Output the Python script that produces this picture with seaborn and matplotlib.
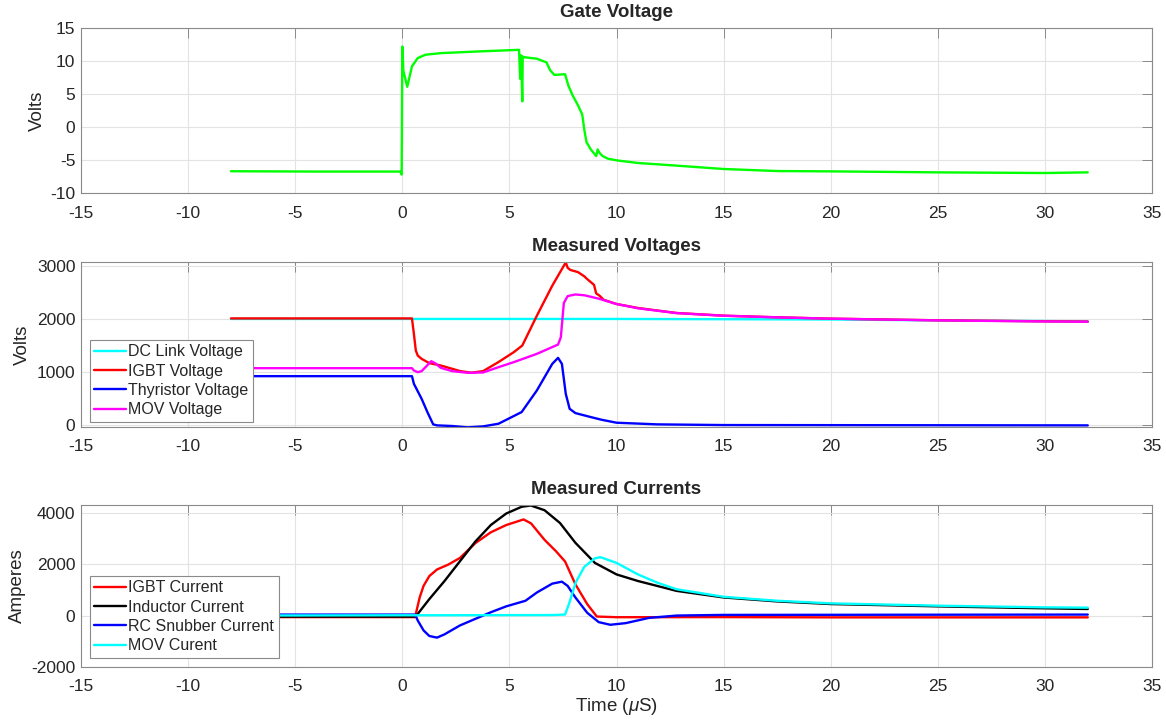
import numpy as np
import pandas as pd
import matplotlib
matplotlib.use("Agg")
import matplotlib.pyplot as plt
import seaborn as sns

# ------------------------------
# Data (time in microseconds)
# ------------------------------
gate_t = [-8.0, -4.0, -0.1, -0.03, 0.0, 0.05, 0.23, 0.45, 0.72, 1.08, 1.8, 3.6,
          5.45, 5.5, 5.52, 5.55, 5.6, 5.62, 5.65, 6.28, 6.73, 6.9, 7.1, 7.6,
          7.75, 7.95, 8.2, 8.4, 8.5, 8.6, 8.8, 9.05, 9.12, 9.2, 9.35, 9.6,
          10.0, 11.0, 12.8, 15.0, 17.5, 20.0, 25.0, 30.0, 32.0]
gate_v = [-6.7, -6.75, -6.75, -7.2, 12.2, 8.5, 6.1, 9.2, 10.45, 10.96, 11.2, 11.46,
          11.7, 7.3, 10.9, 10.8, 3.9, 10.7, 10.6, 10.35, 9.8, 8.6, 7.9, 8.0,
          6.3, 4.8, 3.3, 1.9, -0.5, -2.3, -3.4, -4.4, -3.4, -3.9, -4.4, -4.8,
          -5.05, -5.45, -5.85, -6.36, -6.67, -6.72, -6.87, -6.97, -6.87]

dc_t = [-8.0, 10.0, 20.0, 26.0, 32.0]
dc_v = [2000, 2000, 1990, 1970, 1955]

igbt_v_t = [-8.0, 0.45, 0.54, 0.63, 0.72, 0.9, 1.26, 1.8, 2.7, 3.23, 3.77, 4.49,
            5.2, 5.6, 6.28, 7.0, 7.63, 7.72, 7.85, 8.2, 8.5, 8.6, 8.95, 9.05,
            9.2, 9.4, 10.0, 11.0, 12.8, 15.0, 17.5, 20.0, 25.0, 30.0, 32.0]
igbt_v = [2010, 2010, 1720, 1406, 1312, 1250, 1170, 1125, 1020, 990, 1020, 1190,
          1375, 1500, 2060, 2625, 3062, 2960, 2920, 2880, 2800, 2760, 2640, 2480,
          2440, 2360, 2281, 2206, 2112, 2062, 2031, 2006, 1975, 1956, 1950]

thy_v_t = [-8.0, 0.45, 0.54, 0.9, 1.17, 1.44, 1.62, 2.33, 3.05, 3.77, 4.49, 5.57,
           6.28, 7.0, 7.27, 7.45, 7.63, 7.81, 8.08, 8.8, 9.3, 10.0, 11.9, 15.0, 32.0]
thy_v = [925, 925, 781, 500, 250, 19, 0, -12, -37, -19, 31, 250,
         656, 1156, 1269, 1156, 594, 312, 231, 156, 106, 50, 19, 6, 0]

mov_v_t = [-8.0, 0.45, 0.54, 0.72, 0.9, 1.08, 1.35, 1.53, 1.8, 2.33, 3.05, 3.77,
           4.49, 5.2, 6.28, 7.27, 7.4, 7.54, 7.72, 8.08, 8.5, 9.17, 10.0, 11.0,
           12.8, 15.0, 17.5, 20.0, 25.0, 30.0, 32.0]
mov_v = [1075, 1075, 1031, 1000, 1019, 1094, 1206, 1169, 1081, 1019, 988, 994,
         1094, 1188, 1344, 1519, 1656, 2300, 2430, 2460, 2445, 2381, 2281, 2200,
         2110, 2060, 2030, 2005, 1973, 1953, 1948]

igbt_i_t = [-8.0, 0.6, 0.63, 0.81, 0.99, 1.26, 1.62, 2.15, 2.69, 3.41, 4.13, 4.85,
            5.66, 6.01, 6.64, 7.18, 7.6, 8.08, 8.63, 9.08, 10.0, 15.0, 20.0, 32.0]
igbt_i = [-60, -60, 64, 704, 1152, 1536, 1792, 1984, 2240, 2816, 3238, 3520,
          3738, 3584, 2944, 2496, 2100, 1216, 448, -38, -64, -60, -70, -70]

ind_i_t = [-8.0, 0.6, 0.72, 1.26, 1.97, 2.69, 3.41, 4.13, 4.85, 5.57, 6.0, 6.64,
           7.36, 8.08, 8.99, 10.0, 11.0, 12.8, 15.0, 17.5, 20.0, 25.0, 30.0, 32.0]
ind_i = [-40, -40, 64, 640, 1344, 2112, 2880, 3520, 3968, 4230, 4280, 4096,
         3600, 2830, 2048, 1600, 1344, 960, 704, 550, 448, 358, 282, 256]

rc_i_t = [-8.0, 0.6, 0.72, 0.99, 1.26, 1.62, 1.97, 2.69, 3.41, 4.13, 4.85, 5.75,
          6.28, 7.0, 7.45, 7.72, 8.08, 8.63, 9.17, 9.71, 10.43, 11.52, 12.8, 15.0, 32.0]
rc_i = [38, 38, -192, -576, -794, -858, -730, -384, -128, 128, 358, 576,
        896, 1242, 1318, 1152, 704, 110, -256, -358, -294, -90, 0, 26, 38]

mov_i_t = [-8.0, 7.0, 7.6, 7.8, 8.1, 8.5, 9.0, 9.25, 10.0, 11.0, 11.9, 12.8,
           15.0, 17.5, 20.0, 25.0, 30.0, 32.0]
mov_i = [0, 20, 40, 500, 1300, 1900, 2230, 2270, 2048, 1600, 1280, 1024,
         730, 576, 474, 384, 320, 307]

x_ticks = list(range(-15, 36, 5))

# ------------------------------
# Style (MATLAB-like figure)
# ------------------------------
sns.set_style("white")
plt.rcParams['font.family'] = ['Liberation Sans', 'DejaVu Sans']
plt.rcParams['axes.unicode_minus'] = False
plt.rcParams['mathtext.fontset'] = 'custom'
plt.rcParams['mathtext.it'] = 'Liberation Sans:italic'
plt.rcParams['mathtext.rm'] = 'Liberation Sans'

fig = plt.figure(figsize=(11.66, 7.21), dpi=100)
ax1 = fig.add_axes([0.0695, 0.7323, 0.9185, 0.2288])
ax2 = fig.add_axes([0.0695, 0.4078, 0.9185, 0.2288])
ax3 = fig.add_axes([0.0695, 0.0749, 0.9185, 0.2247])


def draw(ax, t, v, color, label=None):
    sns.lineplot(x=t, y=v, ax=ax, color=color, linewidth=1.7, label=label,
                 estimator=None, sort=False)


def style(ax, title, ylabel, ylim, yticks, ylab_x):
    ax.set_xlim(-15, 35)
    ax.set_ylim(*ylim)
    ax.set_xticks(x_ticks)
    ax.set_yticks(yticks)
    ax.grid(True, color='#e3e3e3', linewidth=0.8)
    ax.set_axisbelow(True)
    for s in ax.spines.values():
        s.set_color('#8a8a8a')
        s.set_linewidth(0.8)
    ax.tick_params(direction='in', length=7, width=0.7, color='#8a8a8a',
                   labelsize=12.5, labelcolor='#262626', top=True, right=True)
    ax.tick_params(axis='x', pad=9)
    ax.tick_params(axis='y', pad=4)
    ax.set_title(title, fontsize=13.5, fontweight='bold', pad=8)
    ax.set_ylabel(ylabel, fontsize=13.5, color='#262626')
    ax.yaxis.set_label_coords(ylab_x, 0.5)
    ax.set_xlabel('')


# Gate voltage
draw(ax1, gate_t, gate_v, '#00ff00')
style(ax1, 'Gate Voltage', 'Volts', (-10, 15), [-10, -5, 0, 5, 10, 15], -0.033)

# Measured voltages
draw(ax2, dc_t, dc_v, '#00ffff', 'DC Link Voltage')
draw(ax2, igbt_v_t, igbt_v, '#ff0000', 'IGBT Voltage')
draw(ax2, thy_v_t, thy_v, '#0000ff', 'Thyristor Voltage')
draw(ax2, mov_v_t, mov_v, '#ff00ff', 'MOV Voltage')
style(ax2, 'Measured Voltages', 'Volts', (-30, 3070), [0, 1000, 2000, 3000], -0.047)

# Measured currents
draw(ax3, igbt_i_t, igbt_i, '#ff0000', 'IGBT Current')
draw(ax3, ind_i_t, ind_i, '#000000', 'Inductor Current')
draw(ax3, rc_i_t, rc_i, '#0000ff', 'RC Snubber Current')
draw(ax3, mov_i_t, mov_i, '#00ffff', 'MOV Curent')
style(ax3, 'Measured Currents', 'Amperes', (-2000, 4300), [-2000, 0, 2000, 4000], -0.051)
ax3.set_xlabel('Time ($\\mu$S)', fontsize=13.5, color='#262626', labelpad=1)

for ax, y0 in [(ax2, 0.03), (ax3, 0.055)]:
    leg = ax.legend(loc='lower left', bbox_to_anchor=(0.008, y0), fontsize=11.5,
                    frameon=True, fancybox=False, framealpha=1, edgecolor='#8a8a8a',
                    handlelength=2.0, handletextpad=0.1, labelspacing=0.27,
                    borderpad=0.3, borderaxespad=0)
    leg.get_frame().set_linewidth(0.8)
    for txt in leg.get_texts():
        txt.set_color('#262626')

fig.savefig('out.png', dpi=100)
